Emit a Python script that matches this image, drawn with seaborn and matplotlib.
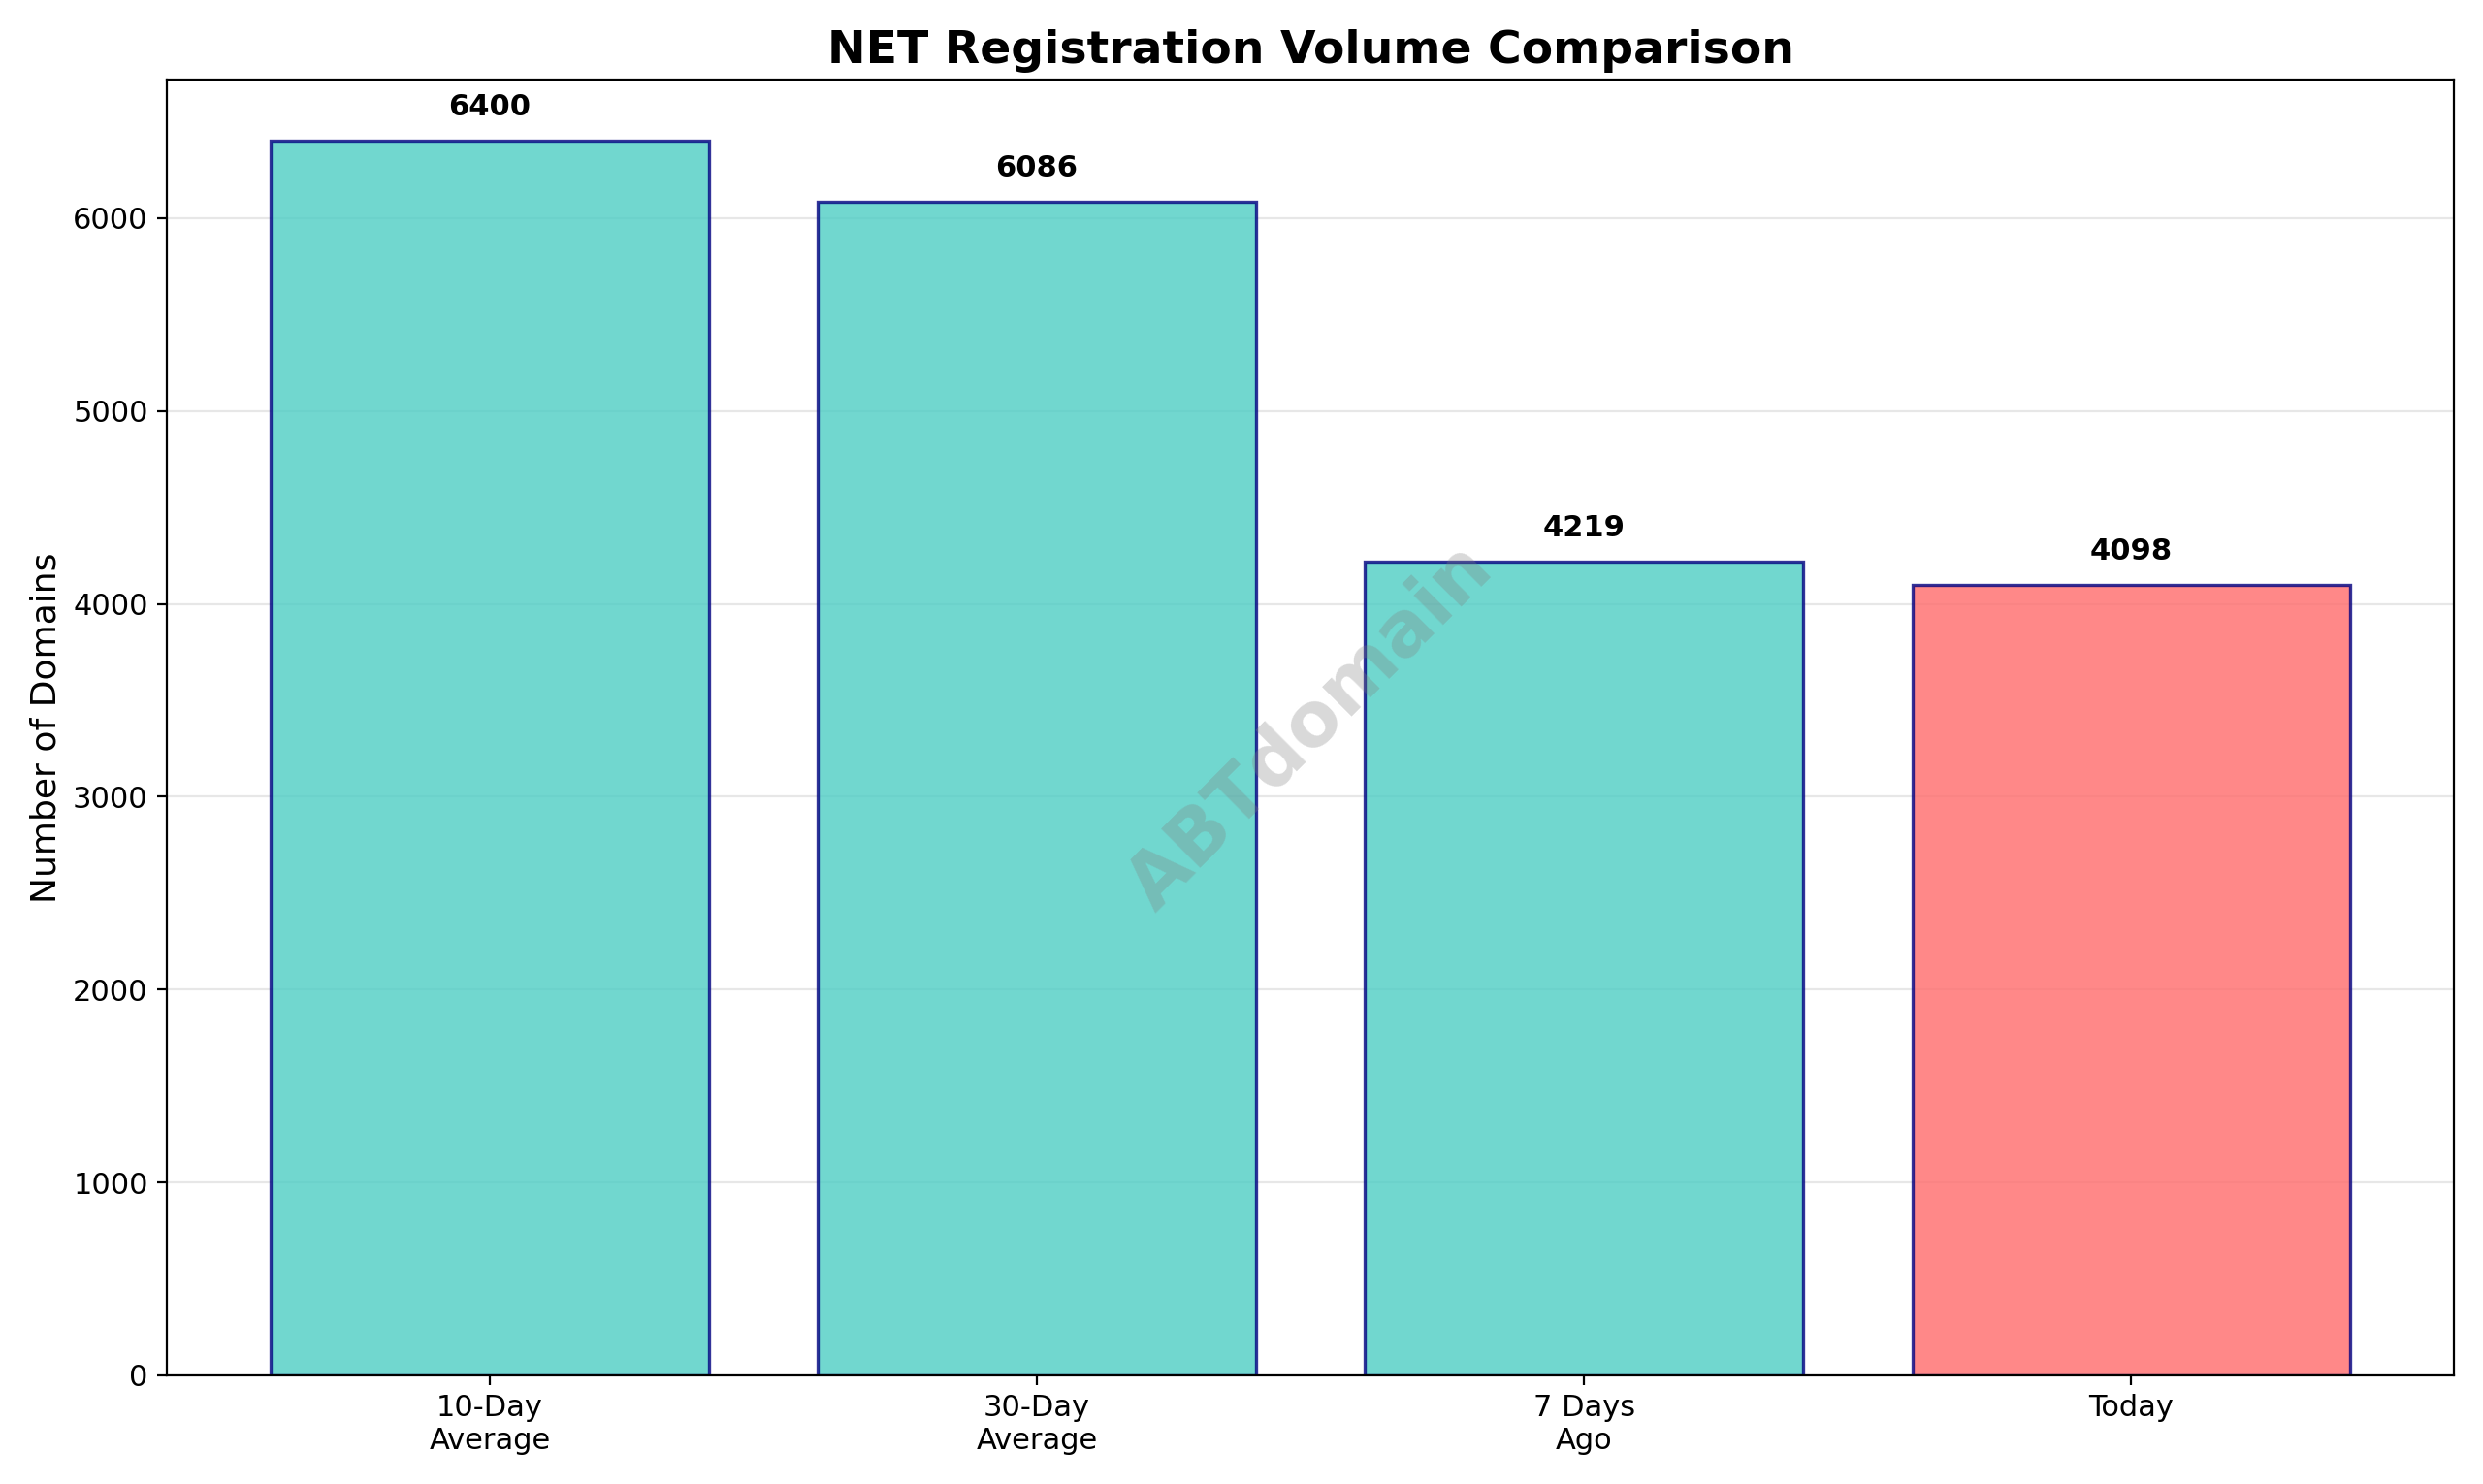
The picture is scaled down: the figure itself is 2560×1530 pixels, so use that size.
import matplotlib
matplotlib.use("Agg")
import matplotlib.pyplot as plt
import seaborn as sns
import pandas as pd

# data
labels = ["10-Day\nAverage", "30-Day\nAverage", "7 Days\nAgo", "Today"]
volumes = [6400, 6086, 4219, 4098]
colors = ["#4ECDC4", "#4ECDC4", "#4ECDC4", "#FF6B6B"]

df = pd.DataFrame({"period": labels, "volume": volumes})

fig, ax = plt.subplots(figsize=(12.8, 7.65), dpi=200)
sns.barplot(data=df, x="period", y="volume", hue="period", palette=colors,
            legend=False, ax=ax, alpha=0.8, edgecolor="navy", linewidth=1.2,
            width=0.8, saturation=1)

for i, v in enumerate(volumes):
    ax.text(i, v + 100, str(v), ha="center", va="bottom",
            fontweight="bold", fontsize=11)

ax.set_title("NET Registration Volume Comparison", fontsize=17, fontweight="bold")
ax.set_ylabel("Number of Domains", fontsize=13)
ax.set_xlabel("")
ax.set_xlim(-0.59, 3.59)
ax.set_ylim(0, 6720)
ax.tick_params(labelsize=11)
ax.grid(axis="y", alpha=0.3)
ax.set_axisbelow(True)

ax.text(0.5, 0.5, "ABTdomain", transform=ax.transAxes, fontsize=28,
        color="gray", alpha=0.3, ha="center", va="center", rotation=45,
        fontweight="bold")

plt.tight_layout()
plt.savefig("out.png")
